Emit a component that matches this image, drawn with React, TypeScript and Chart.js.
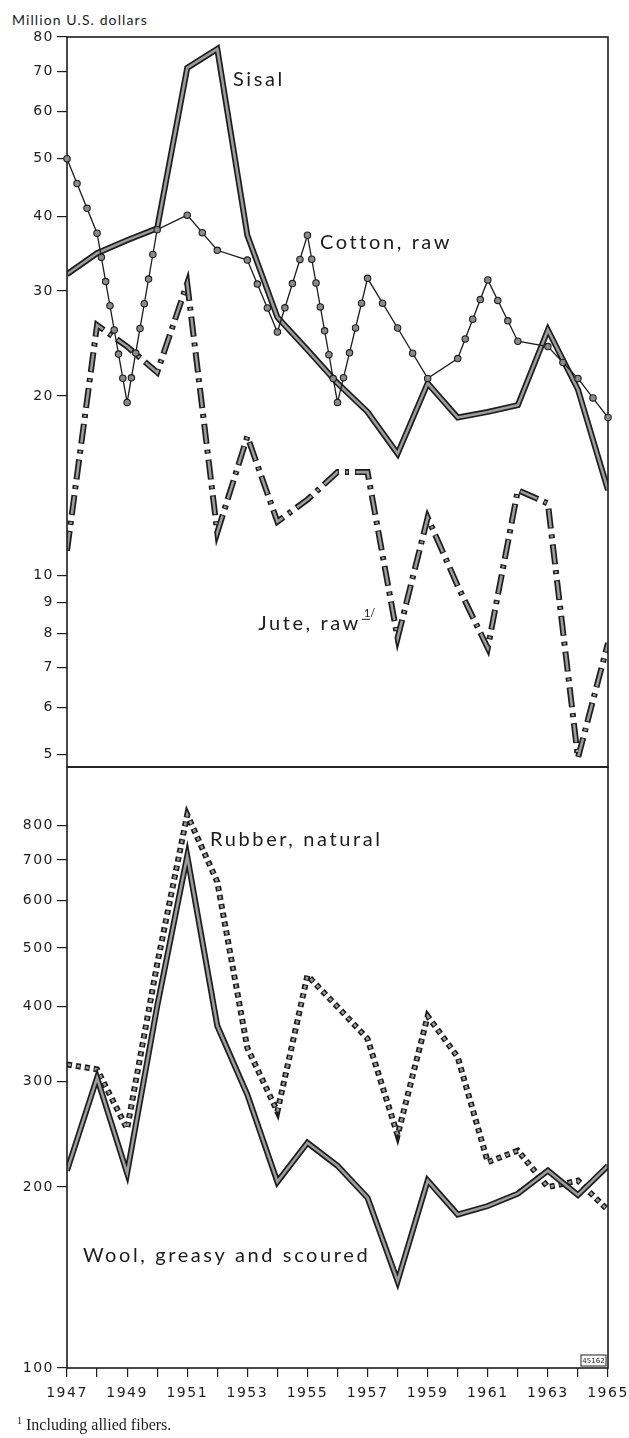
import { useEffect, useRef } from 'react';
import { Chart, registerables } from 'chart.js';

Chart.register(...registerables);

// ---------- data ----------
const years = [1947, 1948, 1949, 1950, 1951, 1952, 1953, 1954, 1955, 1956, 1957, 1958, 1959, 1960, 1961, 1962, 1963, 1964, 1965];
const sisal = [32.0, 34.7, 36.5, 38.2, 71.0, 76.4, 37.2, 27.1, 23.9, 21.0, 18.8, 16.0, 21.0, 18.4, 18.8, 19.3, 25.8, 20.5, 13.9];
const cotton = [50.0, 37.5, 19.5, 38.0, 40.2, 35.1, 33.8, 25.6, 37.2, 19.5, 31.5, 26.0, 21.4, 23.1, 31.3, 24.7, 24.2, 21.4, 18.4];
const jute = [11.0, 26.3, 24.2, 21.9, 30.9, 11.8, 17.1, 12.3, 13.4, 14.9, 14.9, 7.85, 12.5, 9.6, 7.55, 13.9, 13.2, 4.94, 7.7];
const rubber = [320, 314, 250, 470, 833, 644, 341, 267, 450, 399, 353, 244, 385, 329, 220, 230, 200, 205, 183];
const wool = [213, 304, 211, 400, 711, 371, 285, 204, 237, 217, 192, 139.5, 205, 180, 186, 195, 213, 194, 217];

const topTicks = [5, 6, 7, 8, 9, 10, 20, 30, 40, 50, 60, 70, 80];
const bottomTicks = [100, 200, 300, 400, 500, 600, 700, 800];
const xTickLabels = ['1947', '1949', '1951', '1953', '1955', '1957', '1959', '1961', '1963', '1965'];

const topLabels = [
  { text: 'Sisal', year: 1952.52, value: 67.8 },
  { text: 'Cotton, raw', year: 1955.42, value: 36.2 },
  { text: 'Jute, raw', year: 1953.36, value: 8.31, sup: '1/' },
];
const bottomLabels = [
  { text: 'Rubber, natural', year: 1951.76, value: 756 },
  { text: 'Wool, greasy and scoured', year: 1947.53, value: 153.6 },
];

// ---------- layout / style ----------
const W = 629;
const H = 1438;
const AREA_LEFT = 67;
const AREA_RIGHT = 608;
const TOP_Y0 = 37;
const SPLIT_Y = 767;
const BOTTOM_Y = 1368;

const INK = '#1c1c1c';
const FILL = '#9c9c9c';
const TICK_FONT = { family: '"DejaVu Sans", sans-serif', size: 14 };
const LABEL_FONT = 'Lato, "DejaVu Sans", sans-serif';

const pts = (values: number[]) => years.map((x, i) => ({ x, y: values[i] }));

function doubleLine(label: string, values: number[], outerDash: number[], innerDash: number[], order: number) {
  const base = { pointRadius: 0, tension: 0, fill: false, borderCapStyle: 'butt', borderJoinStyle: 'miter' };
  return [
    { ...base, label: label + ' outline', data: pts(values), borderColor: INK, borderWidth: 6, borderDash: outerDash, order: order + 1 },
    { ...base, label, data: pts(values), borderColor: FILL, borderWidth: 2.6, borderDash: innerDash, borderDashOffset: innerDash.length ? -1 : 0, order },
  ];
}

const spacingPlugin = {
  id: 'spacing',
  beforeLayout(chart: any) { chart.ctx.letterSpacing = '1.5px'; },
  beforeDraw(chart: any) { chart.ctx.letterSpacing = '1.5px'; },
};

const framePlugin = {
  id: 'frame',
  afterDatasetsDraw(chart: any) {
    const { ctx, chartArea: a } = chart;
    ctx.save();
    ctx.strokeStyle = INK;
    ctx.lineWidth = 1.6;
    ctx.strokeRect(a.left, a.top, a.right - a.left, a.bottom - a.top);
    ctx.restore();
  },
};

const chainDotsPlugin = {
  id: 'chainDots',
  afterDatasetsDraw(chart: any) {
    const { ctx, chartArea: a } = chart;
    chart.data.datasets.forEach((ds: any, i: number) => {
      if (!ds.chainDots) return;
      const meta = chart.getDatasetMeta(i);
      const p = meta.data.map((e: any) => ({ x: e.x, y: e.y }));
      const spots: { x: number; y: number }[] = [];
      for (let k = 0; k < p.length - 1; k++) {
        const s = p[k];
        const e = p[k + 1];
        const len = Math.hypot(e.x - s.x, e.y - s.y);
        const n = Math.max(1, Math.round(len / 24));
        for (let j = 0; j < n; j++) spots.push({ x: s.x + ((e.x - s.x) * j) / n, y: s.y + ((e.y - s.y) * j) / n });
      }
      spots.push(p[p.length - 1]);
      ctx.save();
      ctx.beginPath();
      ctx.rect(a.left - 5, a.top - 5, a.right - a.left + 10, a.bottom - a.top + 10);
      ctx.clip();
      spots.forEach((s) => {
        ctx.beginPath();
        ctx.arc(s.x, s.y, 3.2, 0, Math.PI * 2);
        ctx.fillStyle = '#8a8a8a';
        ctx.fill();
        ctx.lineWidth = 1.1;
        ctx.strokeStyle = INK;
        ctx.stroke();
      });
      ctx.restore();
    });
  },
};

function labelPlugin(items: { text: string; year: number; value: number; sup?: string }[], stamp: boolean) {
  return {
    id: 'seriesLabels',
    afterDraw(chart: any) {
      const { ctx } = chart;
      const xs = chart.scales.x;
      const ys = chart.scales.y;
      ctx.save();
      ctx.fillStyle = INK;
      ctx.textBaseline = 'middle';
      ctx.textAlign = 'left';
      items.forEach((it) => {
        const x = xs.getPixelForValue(it.year);
        const y = ys.getPixelForValue(it.value);
        ctx.font = `20px ${LABEL_FONT}`;
        ctx.letterSpacing = '2.6px';
        ctx.fillText(it.text, x, y);
        if (it.sup) {
          const w = ctx.measureText(it.text).width;
          ctx.font = `11px ${LABEL_FONT}`;
          ctx.letterSpacing = '0px';
          ctx.fillText(it.sup, x + w + 3, y - 10);
          ctx.lineWidth = 1;
          ctx.strokeStyle = INK;
          ctx.beginPath();
          ctx.moveTo(x + w + 1, y - 4);
          ctx.lineTo(x + w + 9, y - 4);
          ctx.stroke();
        }
      });
      if (stamp) {
        const a = chart.chartArea;
        const bw = 25;
        const bh = 11;
        const bx = a.right - bw - 2;
        const by = a.bottom - bh - 2;
        ctx.fillStyle = '#fff';
        ctx.fillRect(bx, by, bw, bh);
        ctx.strokeStyle = INK;
        ctx.lineWidth = 1;
        ctx.strokeRect(bx, by, bw, bh);
        ctx.fillStyle = INK;
        ctx.font = '7px "DejaVu Sans", sans-serif';
        ctx.letterSpacing = '0px';
        ctx.textAlign = 'center';
        ctx.fillText('45162', bx + bw / 2, by + bh / 2 + 0.5);
      }
      ctx.restore();
    },
  };
}

function yAxis(min: number, max: number, ticks: number[]) {
  return {
    type: 'logarithmic',
    bounds: 'data',
    min,
    max,
    afterFit: (s: any) => {
      s.width = AREA_LEFT;
      s.paddingTop = 0;
      s.paddingBottom = 0;
    },
    afterBuildTicks: (s: any) => { s.ticks = ticks.map((v) => ({ value: v })); },
    ticks: {
      autoSkip: false,
      padding: 3,
      color: INK,
      font: TICK_FONT,
      callback: (v: any) => (ticks.includes(Number(v)) ? String(v) : ''),
    },
    grid: { drawOnChartArea: false, drawTicks: true, tickLength: 10, color: INK, lineWidth: 1.2 },
    border: { display: false },
  };
}

function topConfig(): any {
  return {
    type: 'line',
    data: {
      datasets: [
        { label: 'Cotton, raw', data: pts(cotton), borderColor: INK, borderWidth: 1.3, pointRadius: 0, tension: 0, fill: false, order: 1, chainDots: true },
        ...doubleLine('Sisal', sisal, [], [], 4),
        ...doubleLine('Jute, raw', jute, [20, 6, 4, 6], [18, 8, 2, 8], 7),
      ],
    },
    options: {
      responsive: false,
      animation: false,
      devicePixelRatio: 1,
      layout: { padding: { top: TOP_Y0, bottom: H - SPLIT_Y, left: 0, right: W - AREA_RIGHT } },
      plugins: { legend: { display: false }, tooltip: { enabled: false } },
      scales: {
        x: { type: 'linear', min: years[0], max: years[years.length - 1], display: false },
        y: yAxis(4.77, 80, topTicks),
      },
    },
    plugins: [spacingPlugin, framePlugin, chainDotsPlugin, labelPlugin(topLabels, false)],
  };
}

function bottomConfig(): any {
  return {
    type: 'line',
    data: {
      datasets: [
        ...doubleLine('Wool, greasy and scoured', wool, [], [], 2),
        ...doubleLine('Rubber, natural', rubber, [5, 4], [3, 6], 5),
      ],
    },
    options: {
      responsive: false,
      animation: false,
      devicePixelRatio: 1,
      layout: { padding: { top: SPLIT_Y, bottom: 0, left: 0, right: W - AREA_RIGHT } },
      plugins: { legend: { display: false }, tooltip: { enabled: false } },
      scales: {
        x: {
          type: 'linear',
          min: years[0],
          max: years[years.length - 1],
          afterFit: (s: any) => {
            s.height = H - BOTTOM_Y;
            s.paddingLeft = 0;
            s.paddingRight = 0;
          },
          afterBuildTicks: (s: any) => { s.ticks = years.map((v) => ({ value: v })); },
          ticks: {
            autoSkip: false,
            maxRotation: 0,
            padding: 8,
            color: INK,
            font: TICK_FONT,
            callback: (v: any) => (xTickLabels.includes(String(v)) ? String(v) : ''),
          },
          grid: { drawOnChartArea: false, drawTicks: true, tickLength: 9, color: INK, lineWidth: 1.2 },
          border: { display: false },
        },
        y: yAxis(100, 1000, bottomTicks),
      },
    },
    plugins: [spacingPlugin, framePlugin, labelPlugin(bottomLabels, true)],
  };
}

export default function App() {
  const topRef = useRef<HTMLCanvasElement>(null);
  const botRef = useRef<HTMLCanvasElement>(null);

  useEffect(() => {
    const c1 = new Chart(topRef.current as HTMLCanvasElement, topConfig());
    const c2 = new Chart(botRef.current as HTMLCanvasElement, bottomConfig());
    return () => {
      c1.destroy();
      c2.destroy();
    };
  }, []);

  const canvasStyle: any = { position: 'absolute', left: 0, top: 0, width: W, height: H };
  return (
    <div style={{ position: 'absolute', left: 0, top: 0, width: W, height: H, background: '#fff', overflow: 'hidden' }}>
      <div
        style={{
          position: 'absolute',
          left: 12,
          top: 12,
          font: '14px Lato, "DejaVu Sans", sans-serif',
          letterSpacing: '1.1px',
          color: INK,
          lineHeight: '16px',
          whiteSpace: 'nowrap',
        }}
      >
        Million U.S. dollars
      </div>
      <canvas ref={topRef} width={W} height={H} style={canvasStyle} />
      <canvas ref={botRef} width={W} height={H} style={canvasStyle} />
      <div
        style={{
          position: 'absolute',
          left: 17,
          top: 1412,
          font: '16px "Liberation Serif", "Times New Roman", serif',
          color: INK,
          lineHeight: '18px',
          whiteSpace: 'nowrap',
        }}
      >
        <sup style={{ fontSize: '10px' }}>1</sup> Including allied fibers.
      </div>
    </div>
  );
}
